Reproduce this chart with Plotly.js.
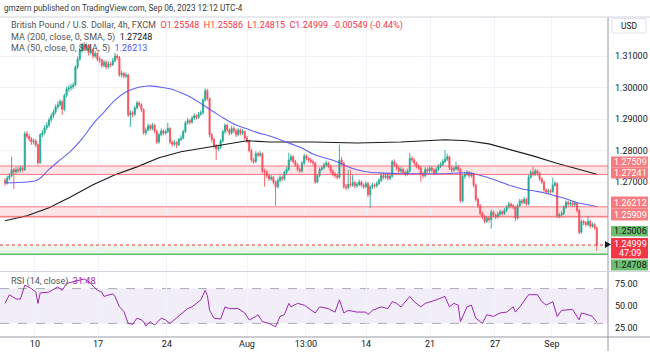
<!DOCTYPE html>
<html><head><meta charset="utf-8">
<script src="https://cdn.plot.ly/plotly-3.0.1.min.js"></script>
<style>html,body{margin:0;padding:0;background:#fff;}#chart{width:650px;height:352px;}</style>
</head><body><div id="chart"></div>
<script>
// ---- data (GBP/USD 4h, FXCM) ----
const openP = [1.2705,1.2697,1.2713,1.2720,1.2739,1.2732,1.2739,1.2736,1.2745,1.2739,
1.2853,1.2845,1.2836,1.2827,1.2830,1.2818,1.2761,1.2850,1.2856,1.2872,
1.2880,1.2897,1.2910,1.2922,1.2938,1.2945,1.2955,1.2930,1.2975,1.2995,
1.2999,1.3002,1.3008,1.3065,1.3090,1.3119,1.3135,1.3125,1.3135,1.3110,
1.3118,1.3100,1.3108,1.3090,1.3087,1.3070,1.3080,1.3065,1.3075,1.3072,
1.3085,1.3100,1.3095,1.3040,1.3045,1.3036,1.3040,1.2913,1.2920,1.2915,
1.2935,1.2951,1.2945,1.2930,1.2856,1.2865,1.2878,1.2870,1.2880,1.2862,
1.2827,1.2850,1.2862,1.2855,1.2860,1.2870,1.2827,1.2820,1.2825,1.2818,
1.2835,1.2840,1.2860,1.2888,1.2895,1.2890,1.2903,1.2910,1.2905,1.2915,
1.2920,1.2960,1.2990,1.2965,1.2850,1.2835,1.2815,1.2805,1.2810,1.2830,
1.2860,1.2880,1.2865,1.2855,1.2870,1.2862,1.2850,1.2865,1.2855,1.2860,
1.2840,1.2830,1.2800,1.2770,1.2765,1.2790,1.2785,1.2790,1.2735,1.2732,
1.2720,1.2710,1.2715,1.2700,1.2685,1.2705,1.2715,1.2710,1.2730,1.2740,
1.2770,1.2780,1.2765,1.2755,1.2740,1.2735,1.2760,1.2782,1.2775,1.2770,
1.2765,1.2760,1.2700,1.2720,1.2740,1.2745,1.2755,1.2760,1.2750,1.2735,
1.2725,1.2720,1.2715,1.2770,1.2760,1.2685,1.2682,1.2692,1.2690,1.2698,
1.2688,1.2692,1.2700,1.2690,1.2685,1.2695,1.2660,1.2685,1.2690,1.2688,
1.2695,1.2705,1.2720,1.2715,1.2720,1.2712,1.2718,1.2764,1.2755,1.2745,
1.2735,1.2740,1.2730,1.2725,1.2735,1.2775,1.2770,1.2760,1.2750,1.2745,
1.2725,1.2720,1.2740,1.2735,1.2745,1.2738,1.2730,1.2740,1.2750,1.2755,
1.2765,1.2772,1.2780,1.2745,1.2738,1.2742,1.2748,1.2740,1.2640,1.2718,
1.2725,1.2730,1.2720,1.2725,1.2690,1.2645,1.2625,1.2600,1.2590,1.2575,
1.2585,1.2580,1.2605,1.2595,1.2590,1.2598,1.2605,1.2600,1.2610,1.2620,
1.2630,1.2625,1.2620,1.2585,1.2625,1.2640,1.2635,1.2645,1.2630,1.2716,
1.2730,1.2725,1.2735,1.2728,1.2710,1.2700,1.2675,1.2668,1.2672,1.2670,
1.2690,1.2695,1.2592,1.2595,1.2600,1.2620,1.2635,1.2630,1.2633,1.2628,
1.2632,1.2610,1.2540,1.2575,1.2570,1.2565,1.2575,1.2560,1.2565,1.25548];
const highP = [1.2712,1.2720,1.2728,1.2780,1.2745,1.2748,1.2747,1.2752,1.2750,1.2860,
1.2862,1.2852,1.2843,1.2838,1.2836,1.2822,1.2855,1.2866,1.2880,1.2890,
1.2904,1.2918,1.2930,1.2946,1.2956,1.2962,1.2960,1.2980,1.3002,1.3008,
1.3012,1.3016,1.3070,1.3098,1.3126,1.3142,1.3144,1.3141,1.3138,1.3128,
1.3124,1.3116,1.3112,1.3098,1.3092,1.3088,1.3086,1.3084,1.3082,1.3094,
1.3110,1.3106,1.3100,1.3054,1.3050,1.3048,1.3044,1.2928,1.2926,1.2942,
1.2958,1.2956,1.2950,1.2934,1.2872,1.2886,1.2884,1.2888,1.2884,1.2866,
1.2856,1.2870,1.2868,1.2866,1.2888,1.2874,1.2832,1.2832,1.2830,1.2840,
1.2848,1.2866,1.2894,1.2903,1.2900,1.2910,1.2918,1.2916,1.2922,1.2928,
1.2966,1.2997,1.2995,1.2968,1.2856,1.2840,1.2820,1.2818,1.2836,1.2866,
1.2886,1.2885,1.2870,1.2878,1.2876,1.2868,1.2872,1.2870,1.2868,1.2864,
1.2846,1.2834,1.2805,1.2776,1.2798,1.2796,1.2798,1.2794,1.2742,1.2738,
1.2726,1.2722,1.2720,1.2705,1.2712,1.2722,1.2720,1.2736,1.2748,1.2793,
1.2788,1.2785,1.2770,1.2760,1.2746,1.2766,1.2790,1.2788,1.2780,1.2776,
1.2772,1.2764,1.2726,1.2746,1.2752,1.2762,1.2768,1.2765,1.2755,1.2740,
1.2732,1.2726,1.2818,1.2780,1.2764,1.2694,1.2738,1.2740,1.2722,1.2704,
1.2700,1.2708,1.2705,1.2696,1.2702,1.2700,1.2690,1.2698,1.2696,1.2702,
1.2712,1.2726,1.2728,1.2727,1.2726,1.2724,1.2770,1.2772,1.2760,1.2750,
1.2748,1.2746,1.2736,1.2742,1.2793,1.2782,1.2776,1.2765,1.2756,1.2750,
1.2732,1.2747,1.2746,1.2752,1.2750,1.2743,1.2747,1.2757,1.2763,1.2772,
1.2802,1.2790,1.2784,1.2750,1.2750,1.2764,1.2754,1.2745,1.2724,1.2732,
1.2737,1.2735,1.2732,1.2730,1.2695,1.2650,1.2630,1.2606,1.2596,1.2592,
1.2592,1.2612,1.2610,1.2600,1.2605,1.2612,1.2610,1.2617,1.2627,1.2638,
1.2635,1.2630,1.2625,1.2632,1.2647,1.2646,1.2652,1.2650,1.2722,1.2738,
1.2748,1.2742,1.2740,1.2732,1.2715,1.2704,1.2680,1.2679,1.2678,1.2713,
1.2703,1.2699,1.2602,1.2607,1.2626,1.2642,1.2641,1.2640,1.2638,1.2639,
1.2636,1.2614,1.2581,1.2580,1.2576,1.2592,1.2580,1.2572,1.2570,1.25586];
const lowP = [1.2688,1.2692,1.2706,1.2715,1.2678,1.2725,1.2728,1.2730,1.2731,1.2735,
1.2838,1.2828,1.2818,1.2819,1.2810,1.2755,1.2758,1.2842,1.2850,1.2865,
1.2874,1.2890,1.2902,1.2915,1.2930,1.2940,1.2913,1.2925,1.2968,1.2986,
1.2990,1.2995,1.3004,1.3058,1.3085,1.3110,1.3115,1.3118,1.3102,1.3104,
1.3092,1.3094,1.3082,1.3078,1.3062,1.3064,1.3058,1.3060,1.3064,1.3068,
1.3080,1.3088,1.3034,1.3032,1.3028,1.3030,1.2906,1.2875,1.2905,1.2910,
1.2930,1.2938,1.2922,1.2850,1.2848,1.2860,1.2862,1.2864,1.2855,1.2820,
1.2822,1.2845,1.2848,1.2850,1.2855,1.2820,1.2812,1.2814,1.2808,1.2814,
1.2830,1.2835,1.2855,1.2882,1.2882,1.2885,1.2897,1.2898,1.2900,1.2910,
1.2915,1.2955,1.2958,1.2842,1.2826,1.2806,1.2770,1.2798,1.2805,1.2825,
1.2852,1.2858,1.2848,1.2850,1.2855,1.2843,1.2845,1.2848,1.2849,1.2834,
1.2824,1.2794,1.2762,1.2758,1.2760,1.2778,1.2780,1.2728,1.2685,1.2712,
1.2703,1.2704,1.2692,1.2624,1.2680,1.2698,1.2702,1.2705,1.2724,1.2735,
1.2764,1.2758,1.2748,1.2733,1.2728,1.2730,1.2755,1.2768,1.2762,1.2758,
1.2752,1.2694,1.2696,1.2715,1.2734,1.2740,1.2748,1.2744,1.2728,1.2718,
1.2712,1.2708,1.2710,1.2752,1.2678,1.2674,1.2676,1.2683,1.2684,1.2680,
1.2681,1.2686,1.2683,1.2678,1.2680,1.2652,1.2618,1.2678,1.2680,1.2682,
1.2690,1.2700,1.2708,1.2709,1.2705,1.2706,1.2714,1.2748,1.2738,1.2728,
1.2728,1.2723,1.2718,1.2720,1.2730,1.2762,1.2753,1.2743,1.2738,1.2701,
1.2712,1.2715,1.2728,1.2730,1.2731,1.2722,1.2725,1.2735,1.2744,1.2750,
1.2760,1.2766,1.2738,1.2730,1.2732,1.2736,1.2733,1.2634,1.2636,1.2710,
1.2718,1.2713,1.2714,1.2683,1.2638,1.2618,1.2593,1.2582,1.2568,1.2570,
1.2572,1.2552,1.2588,1.2582,1.2584,1.2592,1.2593,1.2595,1.2605,1.2615,
1.2618,1.2613,1.2576,1.2580,1.2620,1.2628,1.2630,1.2624,1.2626,1.2710,
1.2718,1.2719,1.2720,1.2703,1.2693,1.2668,1.2661,1.2662,1.2663,1.2665,
1.2685,1.2586,1.2585,1.2588,1.2595,1.2615,1.2623,1.2624,1.2620,1.2622,
1.2603,1.2534,1.2536,1.2563,1.2558,1.2560,1.2553,1.2554,1.2548,1.24815];
const closeP = [1.2697,1.2713,1.2720,1.2739,1.2732,1.2739,1.2736,1.2745,1.2739,1.2853,
1.2845,1.2836,1.2827,1.2830,1.2818,1.2761,1.2850,1.2856,1.2872,1.2880,
1.2897,1.2910,1.2922,1.2938,1.2945,1.2955,1.2930,1.2975,1.2995,1.2999,
1.3002,1.3008,1.3065,1.3090,1.3119,1.3135,1.3125,1.3135,1.3110,1.3118,
1.3100,1.3108,1.3090,1.3087,1.3070,1.3080,1.3065,1.3075,1.3072,1.3085,
1.3100,1.3095,1.3040,1.3045,1.3036,1.3040,1.2913,1.2920,1.2915,1.2935,
1.2951,1.2945,1.2930,1.2856,1.2865,1.2878,1.2870,1.2880,1.2862,1.2827,
1.2850,1.2862,1.2855,1.2860,1.2870,1.2827,1.2820,1.2825,1.2818,1.2835,
1.2840,1.2860,1.2888,1.2895,1.2890,1.2903,1.2910,1.2905,1.2915,1.2920,
1.2960,1.2990,1.2965,1.2850,1.2835,1.2815,1.2805,1.2810,1.2830,1.2860,
1.2880,1.2865,1.2855,1.2870,1.2862,1.2850,1.2865,1.2855,1.2860,1.2840,
1.2830,1.2800,1.2770,1.2765,1.2790,1.2785,1.2790,1.2735,1.2732,1.2720,
1.2710,1.2715,1.2700,1.2685,1.2705,1.2715,1.2710,1.2730,1.2740,1.2770,
1.2780,1.2765,1.2755,1.2740,1.2735,1.2760,1.2782,1.2775,1.2770,1.2765,
1.2760,1.2700,1.2720,1.2740,1.2745,1.2755,1.2760,1.2750,1.2735,1.2725,
1.2720,1.2715,1.2770,1.2760,1.2685,1.2682,1.2692,1.2690,1.2698,1.2688,
1.2692,1.2700,1.2690,1.2685,1.2695,1.2660,1.2685,1.2690,1.2688,1.2695,
1.2705,1.2720,1.2715,1.2720,1.2712,1.2718,1.2764,1.2755,1.2745,1.2735,
1.2740,1.2730,1.2725,1.2735,1.2775,1.2770,1.2760,1.2750,1.2745,1.2725,
1.2720,1.2740,1.2735,1.2745,1.2738,1.2730,1.2740,1.2750,1.2755,1.2765,
1.2772,1.2780,1.2745,1.2738,1.2742,1.2748,1.2740,1.2640,1.2718,1.2725,
1.2730,1.2720,1.2725,1.2690,1.2645,1.2625,1.2600,1.2590,1.2575,1.2585,
1.2580,1.2605,1.2595,1.2590,1.2598,1.2605,1.2600,1.2610,1.2620,1.2630,
1.2625,1.2620,1.2585,1.2625,1.2640,1.2635,1.2645,1.2630,1.2716,1.2730,
1.2725,1.2735,1.2728,1.2710,1.2700,1.2675,1.2668,1.2672,1.2670,1.2690,
1.2695,1.2592,1.2595,1.2600,1.2620,1.2635,1.2630,1.2633,1.2628,1.2632,
1.2610,1.2540,1.2575,1.2570,1.2565,1.2575,1.2560,1.2565,1.25548,1.24999];

const ma200Idx = [0,10,20,30,40,50,60,70,80,90,100,110,120,140,160,180,200,210,220,230,240,250,260,269];
const ma200 = [1.2577,1.2593,1.2618,1.2653,1.2691,1.2723,1.2748,1.2777,1.2796,1.2808,1.2818,1.2831,1.2827,1.2827,1.2824,1.2827,1.2834,1.2831,1.2821,1.2802,1.2783,1.2761,1.2742,1.27248];
const ma50Idx = [0,10,15,20,25,30,35,40,45,50,55,60,65,70,75,80,85,90,95,100,105,110,115,120,125,130,135,140,145,150,155,160,165,170,180,190,200,210,215,220,225,230,235,240,245,250,255,260,265,269];
const ma50 = [1.2697,1.2700,1.2707,1.2740,1.2770,1.2799,1.2837,1.2884,1.2922,1.2960,1.2986,1.2999,1.3005,1.3002,1.2996,1.2983,1.2967,1.2945,1.2922,1.2900,1.2881,1.2869,1.2856,1.2847,1.2834,1.2821,1.2808,1.2789,1.2777,1.2767,1.2751,1.2739,1.2732,1.2729,1.2726,1.2726,1.2726,1.2729,1.2723,1.2713,1.2701,1.2688,1.2678,1.2672,1.2666,1.2656,1.2647,1.2634,1.2628,1.26213];

const rsiIdx = [0,2,5,7,9,12,14,15,16,20,24,26,28,34,36,38,42,44,45,49,50,52,54,56,58,60,62,63,64,66,68,71,73,75,78,80,83,85,87,89,91,92,93,95,98,100,102,106,109,111,114,115,117,120,123,125,127,129,130,133,136,138,141,143,147,150,152,154,156,160,164,165,167,171,174,176,178,180,184,186,189,191,194,196,200,202,204,206,207,208,210,212,214,217,219,222,225,228,231,232,234,238,242,244,246,249,251,253,258,261,262,265,267,269];
const rsiVal = [53,63,58,58,74,70,66,53,65,66,72,68,76,80,81,78,68,66,61,64,61,49,44,30,29,36,34,32,27,32,28,36,34,30,36,40,47,49,53,57,68,62,45,36,35,49,47,47,42,34,38,40,32,30,26,38,40,53,49,53,51,47,42,49,47,43,57,42,45,43,43,40,45,49,47,55,53,49,61,55,49,53,55,57,61,49,53,51,32,38,49,51,36,30,40,38,42,43,49,43,49,63,63,55,51,55,38,45,46,34,42,40,38,31.48];

const dateTickPos = [13.6,42.3,73.6,110,136.8,164.1,193.2,222.7,248.6];
const dateTickText = ['10','17','24','Aug','13:00','14','21','27','Sep'];
const priceTicks = [1.27,1.28,1.29,1.30,1.31];
const priceTickText = ['1.27000','1.28000','1.29000','1.30000','1.31000'];
const rsiTicks = [25,50,75];
const rsiTickText = ['25.00','50.00','75.00'];

const redZones = [[1.27241,1.27509],[1.25909,1.26212]];
const redZoneExtraLine = 1.2588;
const greenZone = [1.24708,1.25006];
const lastPrice = 1.24999;

// ---- geometry ----
const W=650,H=352,ML=0,MR=42,MT=17,MB=15;
const PW=W-ML-MR, PH=H-MT-MB;
const px = x => (x-ML)/PW;
const py = y => (H-MB-y)/PH;
const FONT = 'Roboto, "Liberation Sans", Arial, sans-serif';
const idx = closeP.map((_,i)=>i);

const traces = [
 {type:'candlestick', x:idx, open:openP, high:highP, low:lowP, close:closeP,
  xaxis:'x', yaxis:'y', whiskerwidth:0,
  increasing:{line:{color:'#22ab94',width:0.9},fillcolor:'#22ab94'},
  decreasing:{line:{color:'#f7525f',width:0.9},fillcolor:'#f7525f'},
  hoverinfo:'skip', showlegend:false},
 {type:'scatter', mode:'lines', x:ma200Idx, y:ma200, xaxis:'x', yaxis:'y',
  line:{color:'#1b1b1b',width:1.1}, hoverinfo:'skip', showlegend:false},
 {type:'scatter', mode:'lines', x:ma50Idx, y:ma50, xaxis:'x', yaxis:'y',
  line:{color:'rgba(82,82,245,0.9)',width:1.1,shape:'spline'}, hoverinfo:'skip', showlegend:false},
 {type:'scatter', mode:'lines', x:rsiIdx, y:rsiVal, xaxis:'x', yaxis:'y2',
  line:{color:'#9c27b0',width:1}, hoverinfo:'skip', showlegend:false}
];

const shapes = [];
redZones.forEach(z=>{
  shapes.push({type:'rect',xref:'paper',yref:'y',x0:0,x1:1,y0:z[0],y1:z[1],
    fillcolor:'rgba(242,54,69,0.13)',line:{width:0},layer:'below'});
  z.forEach(v=>shapes.push({type:'line',xref:'paper',yref:'y',x0:0,x1:1,y0:v,y1:v,
    line:{color:'rgba(242,80,90,0.75)',width:1}}));
});
shapes.push({type:'line',xref:'paper',yref:'y',x0:0,x1:1,y0:redZoneExtraLine,y1:redZoneExtraLine,
  line:{color:'rgba(242,80,90,0.5)',width:1}});
shapes.push({type:'rect',xref:'paper',yref:'y',x0:0,x1:1,y0:greenZone[0],y1:greenZone[1],
  fillcolor:'rgba(76,175,80,0.13)',line:{width:0},layer:'below'});
shapes.push({type:'line',xref:'paper',yref:'y',x0:0,x1:1,y0:greenZone[0],y1:greenZone[0],
  line:{color:'#66bb6a',width:1.5}});
shapes.push({type:'line',xref:'paper',yref:'y',x0:0,x1:1,y0:lastPrice,y1:lastPrice,
  line:{color:'#f23645',width:1,dash:'dot'}});
shapes.push({type:'rect',xref:'paper',yref:'y2',x0:0,x1:1,y0:30,y1:70,
  fillcolor:'rgba(126,87,194,0.1)',line:{width:0},layer:'below'});
[30,70].forEach(v=>shapes.push({type:'line',xref:'paper',yref:'y2',x0:0,x1:1,y0:v,y1:v,
  line:{color:'#a8abb3',width:1,dash:'dash'},layer:'below'}));
const sep = '#d1d4dc';
shapes.push({type:'line',xref:'paper',yref:'paper',x0:px(608),x1:px(608),y0:py(17),y1:py(351),line:{color:'#9598a1',width:1}});
shapes.push({type:'line',xref:'paper',yref:'paper',x0:px(0),x1:px(650),y0:py(17),y1:py(17),line:{color:sep,width:1}});
shapes.push({type:'line',xref:'paper',yref:'paper',x0:px(0),x1:px(650),y0:py(271.5),y1:py(271.5),line:{color:sep,width:1}});
shapes.push({type:'line',xref:'paper',yref:'paper',x0:px(0),x1:px(650),y0:py(337),y1:py(337),line:{color:'#9598a1',width:1}});
shapes.push({type:'rect',xref:'paper',yref:'paper',x0:px(612),x1:px(646),y0:py(18.5),y1:py(33),
  line:{color:'#e0e3eb',width:1},fillcolor:'#ffffff'});

const annotations = [];
function labelBox(y0,y1,fill,text,color){
  shapes.push({type:'rect',xref:'paper',yref:'paper',x0:px(611),x1:px(648),y0:py(y0),y1:py(y1),
    fillcolor:fill,line:{width:0},layer:'above'});
  annotations.push({xref:'paper',yref:'paper',x:px(630),y:py((y0+y1)/2),text:text,showarrow:false,
    xanchor:'center',yanchor:'middle',font:{family:FONT,size:9,color:color}});
}
labelBox(156.5,167.5,'#f77c80','1.27509','#ffffff');
labelBox(167.5,178.5,'#f77c80','1.27241','#ffffff');
labelBox(196.5,208.5,'#f77c80','1.26212','#ffffff');
labelBox(208.5,220.5,'#f77c80','1.25909','#ffffff');
labelBox(226,236.5,'#6cbf6f','1.25006','#131722');
shapes.push({type:'rect',xref:'paper',yref:'paper',x0:px(611),x1:px(648),y0:py(238),y1:py(258.5),
  fillcolor:'#f23645',line:{width:0},layer:'above'});
annotations.push({xref:'paper',yref:'paper',x:px(630),y:py(243.5),text:'1.24999',showarrow:false,
  xanchor:'center',yanchor:'middle',font:{family:FONT,size:9,color:'#ffffff'}});
annotations.push({xref:'paper',yref:'paper',x:px(630),y:py(253),text:'47:09',showarrow:false,
  xanchor:'center',yanchor:'middle',font:{family:FONT,size:9,color:'#ffffff'}});
labelBox(259.5,270.5,'#6cbf6f','1.24708','#131722');
shapes.push({type:'path',xref:'paper',yref:'paper',
  path:`M ${px(605)} ${py(241)} L ${px(611)} ${py(244.5)} L ${px(605)} ${py(248)} Z`,
  fillcolor:'#131722',line:{width:0},layer:'above'});

const txt = (x,y,t,size)=>annotations.push({xref:'paper',yref:'paper',x:px(x),y:py(y),text:t,showarrow:false,
  xanchor:'left',yanchor:'middle',font:{family:FONT,size:size||9,color:'#555'}});
txt(2,8,'<span style="color:#3a3a3a">gmzern published on TradingView.com, Sep 06, 2023 12:12 UTC-4</span>',8.2);
txt(9,25,'<span style="color:#555">British Pound / U.S. Dollar, 4h, FXCM</span>  <span style="color:#f23645">O1.25548  H1.25586  L1.24815  C1.24999  -0.00549 (-0.44%)</span>');
txt(9,37,'<span style="color:#555">MA (200, close, 0, SMA, 5)</span>  <span style="color:#131722">1.27248</span>');
txt(9,48.5,'<span style="color:#555">MA (50, close, 0, SMA, 5)</span>  <span style="color:#5252f5">1.26213</span>');
txt(9,281,'<span style="color:#555">RSI (14, close)</span>  <span style="color:#9c27b0">31.48</span>');
annotations.push({xref:'paper',yref:'paper',x:px(629),y:py(26),text:'USD',showarrow:false,
  xanchor:'center',yanchor:'middle',font:{family:FONT,size:8.5,color:'#131722'}});

const priceDom = [py(271),py(17)];
const rsiDom = [py(337),py(272)];
const yTop = 1.31 + (56-17)/3150, yBot = 1.31 - (271-56)/3150;
const rTop = 50 + (306-272)/0.87, rBot = 50 - (337-306)/0.87;

const layout = {
  width:W,height:H,margin:{l:ML,r:MR,t:MT,b:MB,pad:0},
  paper_bgcolor:'#ffffff',plot_bgcolor:'#ffffff',showlegend:false,
  font:{family:FONT,size:9,color:'#131722'},
  xaxis:{domain:[0,1],anchor:'y2',range:[-5/2.2,(608-5)/2.2],tickmode:'array',
    tickvals:dateTickPos,ticktext:dateTickText,showgrid:true,gridcolor:'#f0f3fa',gridwidth:1,
    zeroline:false,showline:false,ticks:'',ticklen:0,tickfont:{family:FONT,size:9,color:'#131722'},
    rangeslider:{visible:false},fixedrange:true},
  yaxis:{domain:priceDom,anchor:'x',side:'right',range:[yBot,yTop],tickmode:'array',
    tickvals:priceTicks,ticktext:priceTickText,showgrid:true,gridcolor:'#f0f3fa',zeroline:false,
    showline:false,ticks:'',ticklabelstandoff:6,tickfont:{family:FONT,size:9,color:'#131722'},fixedrange:true},
  yaxis2:{domain:rsiDom,anchor:'x',side:'right',range:[rBot,rTop],tickmode:'array',
    tickvals:rsiTicks,ticktext:rsiTickText,showgrid:false,zeroline:false,showline:false,ticks:'',
    ticklabelstandoff:6,tickfont:{family:FONT,size:9,color:'#131722'},fixedrange:true},
  shapes:shapes, annotations:annotations
};
Plotly.newPlot('chart',traces,layout,{displayModeBar:false,staticPlot:true});
</script></body></html>
